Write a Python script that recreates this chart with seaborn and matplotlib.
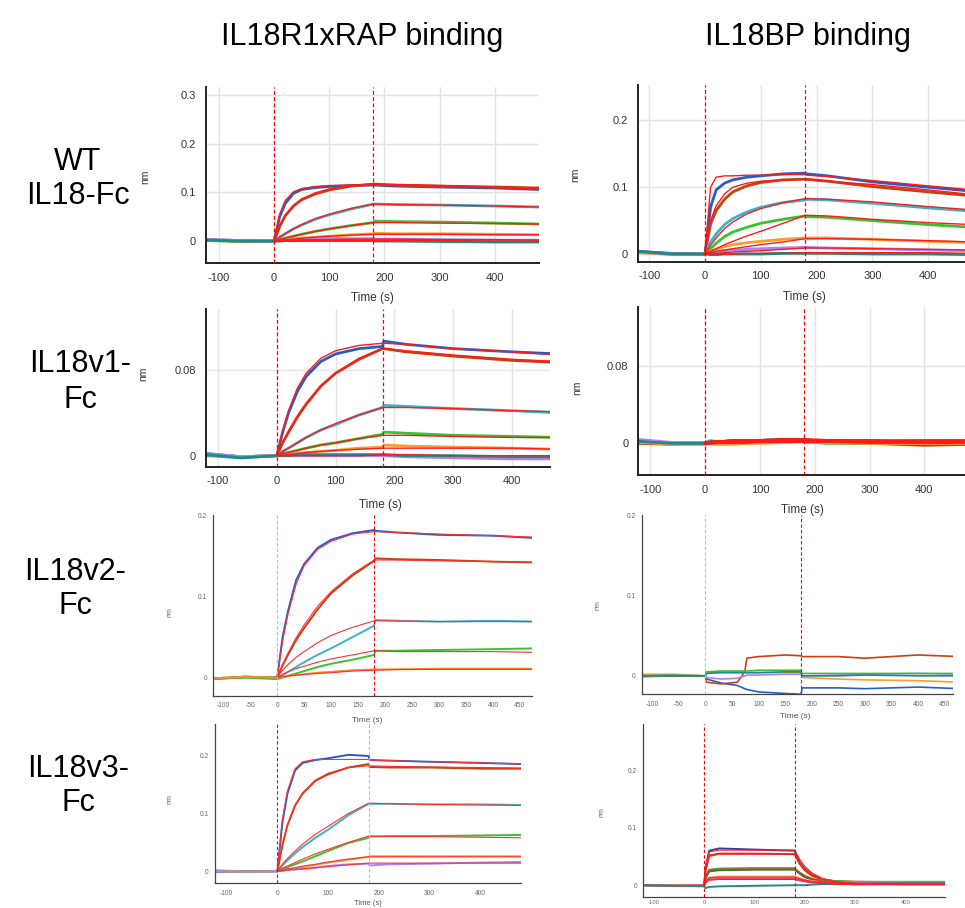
import numpy as np
import matplotlib
matplotlib.use("Agg")
import matplotlib.pyplot as plt
import seaborn as sns
from matplotlib.ticker import MultipleLocator, FixedLocator, FuncFormatter

sns.set_style("white")
plt.rcParams['font.family'] = ['Liberation Sans', 'DejaVu Sans']

# ---------------- data ----------------
COL_TITLES = ["IL18R1xRAP binding", "IL18BP binding"]
ROW_LABELS = ["WT\nIL18-Fc", "IL18v1-\nFc", "IL18v2-\nFc", "IL18v3-\nFc"]

T = [-120, -60, 0, 10, 20, 35, 50, 75, 100, 140, 180, 182, 220, 300, 400, 480]
T6 = [-120, -60, 0, 2, 30, 60, 74, 78, 100, 150, 180, 182, 250, 300, 400, 480]
T8 = [-120, -60, 0, 3, 10, 30, 100, 180, 190, 200, 215, 235, 260, 300, 400, 480]

# Panel 1: WT IL18-Fc / IL18R1xRAP
P1_DATA = [
    [0.003, 0.001, 0.0, 0.05, 0.077, 0.098, 0.106, 0.11, 0.112, 0.114, 0.115, 0.115, 0.113, 0.111, 0.109, 0.106],
    [0.002, 0.0, 0.0, 0.03, 0.052, 0.072, 0.085, 0.097, 0.105, 0.113, 0.117, 0.117, 0.115, 0.113, 0.111, 0.109],
    [0.002, 0.0, 0.0, 0.008, 0.015, 0.025, 0.033, 0.045, 0.054, 0.066, 0.076, 0.076, 0.075, 0.074, 0.072, 0.07],
    [0.001, -0.001, 0.0, 0.003, 0.006, 0.01, 0.014, 0.02, 0.025, 0.032, 0.038, 0.041, 0.04, 0.039, 0.037, 0.035],
    [0.002, 0.0, 0.0, 0.001, 0.002, 0.004, 0.006, 0.008, 0.01, 0.013, 0.015, 0.016, 0.015, 0.015, 0.014, 0.013],
    [0.003, 0.001, 0.0, 0.001, 0.002, 0.002, 0.003, 0.004, 0.005, 0.005, 0.005, 0.004, 0.004, 0.003, 0.002, 0.002],
    [0.002, 0.0, 0.0, 0.0, 0.001, 0.001, 0.001, 0.001, 0.001, 0.001, 0.001, 0.0, 0.0, -0.001, -0.002, -0.002],
]
P1_FIT = [
    [0, 0.055, 0.083, 0.101, 0.108, 0.112, 0.114, 0.115, 0.116, 0.116, 0.115, 0.113, 0.110, 0.107],
    [0, 0.03, 0.052, 0.073, 0.086, 0.099, 0.107, 0.114, 0.117, 0.117, 0.116, 0.114, 0.111, 0.109],
    [0, 0.008, 0.015, 0.025, 0.034, 0.046, 0.055, 0.067, 0.076, 0.076, 0.075, 0.074, 0.072, 0.070],
    [0, 0.003, 0.006, 0.01, 0.014, 0.02, 0.025, 0.032, 0.038, 0.038, 0.038, 0.037, 0.036, 0.035],
    [0, 0.001, 0.002, 0.004, 0.006, 0.008, 0.01, 0.012, 0.014, 0.014, 0.014, 0.014, 0.013, 0.013],
    [0, 0.001, 0.001, 0.002, 0.002, 0.003, 0.003, 0.004, 0.004, 0.004, 0.004, 0.003, 0.003, 0.002],
    [0, 0.0, 0.0, 0.0, 0.001, 0.001, 0.001, 0.001, 0.001, 0.001, 0.001, 0.001, 0.0, 0.0],
]

# Panel 2: WT IL18-Fc / IL18BP
P2_DATA = [
    [0.004, 0.001, 0.0, 0.07, 0.096, 0.106, 0.111, 0.115, 0.117, 0.12, 0.121, 0.12, 0.117, 0.108, 0.1, 0.094],
    [0.003, 0.0, 0.0, 0.045, 0.065, 0.082, 0.093, 0.102, 0.107, 0.111, 0.112, 0.112, 0.109, 0.101, 0.093, 0.087],
    [0.003, 0.0, 0.0, 0.018, 0.03, 0.044, 0.053, 0.063, 0.07, 0.077, 0.081, 0.082, 0.081, 0.076, 0.069, 0.064],
    [0.004, 0.0, 0.0, 0.008, 0.016, 0.026, 0.033, 0.04, 0.046, 0.052, 0.057, 0.056, 0.055, 0.05, 0.044, 0.04],
    [0.002, -0.001, 0.0, 0.004, 0.007, 0.011, 0.014, 0.017, 0.019, 0.022, 0.024, 0.024, 0.024, 0.022, 0.019, 0.017],
    [0.003, 0.0, 0.0, 0.002, 0.003, 0.005, 0.006, 0.007, 0.008, 0.009, 0.01, 0.01, 0.009, 0.008, 0.006, 0.005],
    [0.004, 0.0, 0.0, -0.001, -0.001, 0.0, 0.0, 0.0, 0.0, 0.001, 0.001, 0.001, 0.001, 0.0, 0.0, -0.001],
]
P2_FIT = [
    [0, 0.1, 0.115, 0.117, 0.117, 0.118, 0.118, 0.119, 0.119, 0.118, 0.116, 0.11, 0.102, 0.096],
    [0, 0.05, 0.072, 0.09, 0.1, 0.106, 0.109, 0.111, 0.112, 0.111, 0.109, 0.104, 0.096, 0.089],
    [0, 0.013, 0.024, 0.038, 0.048, 0.06, 0.068, 0.077, 0.083, 0.083, 0.082, 0.078, 0.071, 0.066],
    [0, 0.004, 0.008, 0.014, 0.019, 0.027, 0.034, 0.046, 0.058, 0.058, 0.057, 0.052, 0.047, 0.044],
    [0, 0.002, 0.004, 0.006, 0.008, 0.011, 0.014, 0.018, 0.023, 0.023, 0.023, 0.022, 0.02, 0.018],
    [0, 0.001, 0.001, 0.002, 0.003, 0.004, 0.005, 0.007, 0.009, 0.009, 0.009, 0.008, 0.007, 0.006],
    [0, 0.0, 0.0, 0.0, 0.0, 0.001, 0.001, 0.001, 0.002, 0.002, 0.002, 0.002, 0.002, 0.001],
]

# Panel 3: IL18v1-Fc / IL18R1xRAP
P3_DATA = [
    [0.002, -0.001, 0.0, 0.022, 0.04, 0.06, 0.074, 0.088, 0.095, 0.1, 0.102, 0.107, 0.104, 0.1, 0.097, 0.095],
    [0.001, -0.001, 0.0, 0.012, 0.022, 0.036, 0.048, 0.065, 0.077, 0.09, 0.1, 0.1, 0.097, 0.093, 0.089, 0.087],
    [0.0, -0.002, 0.0, 0.004, 0.007, 0.012, 0.017, 0.024, 0.029, 0.038, 0.045, 0.047, 0.046, 0.044, 0.042, 0.04],
    [0.001, -0.001, 0.0, 0.002, 0.003, 0.005, 0.007, 0.01, 0.012, 0.016, 0.02, 0.022, 0.021, 0.019, 0.018, 0.017],
    [0.001, -0.001, 0.0, 0.001, 0.001, 0.002, 0.003, 0.004, 0.005, 0.007, 0.008, 0.01, 0.009, 0.008, 0.007, 0.006],
    [0.002, -0.001, 0.0, 0.0, 0.0, 0.0, 0.0, 0.0, 0.0, 0.0, 0.0, 0.0, -0.001, -0.002, -0.003, -0.003],
    [0.001, -0.002, 0.0, 0.0, 0.0, 0.001, 0.001, 0.001, 0.001, 0.001, 0.001, 0.001, 0.0, 0.0, -0.001, -0.001],
]
P3_FIT = [
    [0, 0.023, 0.042, 0.063, 0.077, 0.091, 0.098, 0.103, 0.105, 0.105, 0.104, 0.1, 0.097, 0.094],
    [0, 0.012, 0.023, 0.037, 0.049, 0.065, 0.077, 0.091, 0.1, 0.1, 0.098, 0.094, 0.09, 0.088],
    [0, 0.004, 0.007, 0.012, 0.017, 0.024, 0.03, 0.038, 0.045, 0.045, 0.045, 0.044, 0.042, 0.041],
    [0, 0.002, 0.003, 0.005, 0.007, 0.01, 0.012, 0.016, 0.019, 0.019, 0.019, 0.018, 0.017, 0.017],
    [0, 0.001, 0.001, 0.002, 0.003, 0.004, 0.005, 0.006, 0.007, 0.007, 0.007, 0.007, 0.007, 0.006],
    [0, 0, 0, 0, 0, 0, 0, 0, 0.001, 0.001, 0.001, 0.0, 0.0, 0.0],
]

# Panel 4: IL18v1-Fc / IL18BP
P4_DATA = [
    [0.002, 0.0, 0.0, 0.002, 0.002, 0.002, 0.002, 0.002, 0.002, 0.003, 0.003, 0.002, 0.002, 0.001, 0.001, 0.001],
    [0.0, -0.001, 0.0, 0.001, 0.001, 0.001, 0.001, 0.002, 0.002, 0.002, 0.002, 0.001, 0.001, 0.0, -0.002, -0.001],
    [0.002, 0.0, 0.0, 0.002, 0.002, 0.002, 0.003, 0.003, 0.003, 0.004, 0.004, 0.003, 0.003, 0.002, 0.003, 0.003],
    [0.002, 0.0, -0.001, 0.002, 0.001, 0.001, 0.002, 0.002, 0.002, 0.002, 0.003, 0.002, 0.0, 0.0, 0.001, 0.001],
    [0.001, -0.001, -0.001, 0.0, -0.001, -0.001, -0.001, 0.0, 0.0, 0.001, 0.002, 0.001, 0.001, 0.0, 0.0, 0.0],
    [0.004, 0.001, 0.001, 0.003, 0.002, 0.002, 0.002, 0.003, 0.002, 0.003, 0.004, 0.003, 0.002, 0.001, 0.001, 0.001],
    [0.002, 0.0, 0.0, 0.002, 0.002, 0.002, 0.003, 0.003, 0.003, 0.004, 0.004, 0.003, 0.003, 0.002, 0.003, 0.003],
]
P4_FIT = [
    [0, 0.001, 0.001, 0.002, 0.002, 0.002, 0.002, 0.003, 0.003, 0.003, 0.003, 0.002, 0.002, 0.002],
    [0, 0.0, 0.001, 0.001, 0.001, 0.001, 0.002, 0.002, 0.002, 0.002, 0.002, 0.001, 0.001, 0.001],
    [0, 0.001, 0.002, 0.002, 0.003, 0.003, 0.003, 0.004, 0.004, 0.004, 0.003, 0.003, 0.002, 0.002],
]

# Panel 5: IL18v2-Fc / IL18R1xRAP
P5_DATA = [
    [-0.002, 0.001, 0.0, 0.05, 0.082, 0.12, 0.14, 0.16, 0.17, 0.178, 0.182, 0.181, 0.179, 0.176, 0.175, 0.172],
    [-0.001, 0.001, 0.0, 0.015, 0.028, 0.046, 0.061, 0.084, 0.104, 0.126, 0.144, 0.147, 0.146, 0.145, 0.143, 0.142],
    [-0.002, 0.0, 0.0, 0.003, 0.007, 0.013, 0.019, 0.028, 0.036, 0.05, 0.064, 0.071, 0.07, 0.069, 0.07, 0.069],
    [-0.001, 0.0, -0.002, 0.0, 0.002, 0.005, 0.008, 0.013, 0.017, 0.022, 0.028, 0.033, 0.033, 0.034, 0.035, 0.036],
    [-0.001, 0.001, 0.0, 0.001, 0.002, 0.003, 0.004, 0.006, 0.007, 0.009, 0.01, 0.01, 0.01, 0.011, 0.011, 0.011],
]
P5_FIT = [
    [0, 0.045, 0.078, 0.115, 0.138, 0.158, 0.168, 0.177, 0.18, 0.18, 0.179, 0.177, 0.175, 0.173],
    [0, 0.016, 0.03, 0.049, 0.065, 0.088, 0.106, 0.128, 0.145, 0.145, 0.145, 0.144, 0.143, 0.142],
    [0, 0.009, 0.016, 0.025, 0.032, 0.043, 0.052, 0.062, 0.07, 0.07, 0.07, 0.069, 0.069, 0.069],
    [0, 0.004, 0.007, 0.011, 0.014, 0.019, 0.023, 0.028, 0.033, 0.033, 0.032, 0.032, 0.032, 0.031],
    [0, 0.001, 0.002, 0.003, 0.004, 0.005, 0.006, 0.008, 0.009, 0.009, 0.01, 0.01, 0.01, 0.01],
]

# Panel 6: IL18v2-Fc / IL18BP (no fits)
P6_DATA = [
    [-0.001, 0.0, 0.0, -0.004, -0.009, -0.012, -0.016, -0.017, -0.02, -0.022, -0.023, -0.015, -0.015, -0.016, -0.014, -0.016],
    [0.0, 0.0, 0.0, -0.008, -0.01, -0.008, 0.005, 0.022, 0.024, 0.026, 0.025, 0.024, 0.024, 0.022, 0.026, 0.024],
    [0.002, 0.002, 0.0, 0.004, 0.005, 0.004, 0.004, 0.004, 0.004, 0.004, 0.004, -0.002, -0.004, -0.005, -0.006, -0.008],
    [0.0, 0.001, 0.0, -0.002, -0.004, -0.003, 0.0, 0.001, 0.001, 0.002, 0.002, 0.0, 0.001, 0.002, 0.003, 0.002],
    [0.0, 0.001, 0.0, 0.005, 0.006, 0.006, 0.006, 0.006, 0.007, 0.007, 0.007, 0.003, 0.003, 0.003, 0.003, 0.003],
    [0.0, 0.0, 0.0, 0.003, 0.004, 0.004, 0.004, 0.004, 0.004, 0.005, 0.005, 0.0, 0.0, 0.001, 0.0, 0.0],
]

# Panel 7: IL18v3-Fc / IL18R1xRAP
P7_DATA = [
    [-0.001, 0.0, 0.0, 0.085, 0.135, 0.175, 0.188, 0.193, 0.196, 0.202, 0.2, 0.193, 0.192, 0.19, 0.188, 0.186],
    [0.0, 0.0, 0.0, 0.045, 0.08, 0.114, 0.135, 0.157, 0.168, 0.18, 0.186, 0.181, 0.18, 0.18, 0.178, 0.178],
    [0.0, -0.001, 0.0, 0.01, 0.019, 0.031, 0.042, 0.058, 0.072, 0.097, 0.117, 0.117, 0.117, 0.116, 0.116, 0.115],
    [0.0, 0.0, 0.0, 0.004, 0.007, 0.012, 0.017, 0.026, 0.035, 0.049, 0.058, 0.06, 0.061, 0.061, 0.062, 0.063],
    [0.002, -0.001, 0.0, 0.001, 0.003, 0.005, 0.007, 0.011, 0.015, 0.02, 0.025, 0.026, 0.026, 0.026, 0.026, 0.026],
    [0.0, -0.001, 0.0, 0.001, 0.002, 0.003, 0.004, 0.006, 0.009, 0.012, 0.013, 0.01, 0.012, 0.013, 0.015, 0.016],
]
P7_FIT = [
    [0, 0.09, 0.14, 0.178, 0.19, 0.194, 0.194, 0.194, 0.194, 0.193, 0.192, 0.19, 0.188, 0.186],
    [0, 0.045, 0.08, 0.115, 0.136, 0.158, 0.17, 0.18, 0.183, 0.183, 0.182, 0.181, 0.18, 0.179],
    [0, 0.012, 0.022, 0.035, 0.047, 0.064, 0.078, 0.1, 0.118, 0.118, 0.117, 0.116, 0.115, 0.114],
    [0, 0.005, 0.009, 0.015, 0.021, 0.03, 0.038, 0.05, 0.061, 0.061, 0.06, 0.06, 0.059, 0.058],
    [0, 0.002, 0.004, 0.006, 0.009, 0.012, 0.016, 0.021, 0.025, 0.025, 0.025, 0.025, 0.025, 0.025],
    [0, 0.001, 0.002, 0.003, 0.004, 0.006, 0.008, 0.011, 0.014, 0.014, 0.014, 0.014, 0.014, 0.014],
]

# Panel 8: IL18v3-Fc / IL18BP
P8_DATA = [
    [0.0, -0.001, 0.0, 0.03, 0.06, 0.064, 0.062, 0.06, 0.04, 0.028, 0.017, 0.01, 0.007, 0.005, 0.005, 0.004],
    [0.0, 0.0, 0.0, 0.025, 0.052, 0.055, 0.055, 0.054, 0.037, 0.026, 0.016, 0.01, 0.007, 0.006, 0.005, 0.004],
    [0.0, -0.001, 0.0, 0.015, 0.027, 0.029, 0.03, 0.03, 0.022, 0.016, 0.011, 0.008, 0.007, 0.006, 0.006, 0.006],
    [0.0, 0.0, 0.0, 0.012, 0.024, 0.026, 0.027, 0.027, 0.02, 0.014, 0.01, 0.007, 0.006, 0.005, 0.005, 0.005],
    [0.0, 0.0, 0.0, 0.007, 0.013, 0.015, 0.015, 0.015, 0.012, 0.009, 0.007, 0.006, 0.005, 0.005, 0.005, 0.005],
    [0.0, -0.001, 0.0, 0.005, 0.01, 0.011, 0.011, 0.011, 0.009, 0.008, 0.006, 0.005, 0.004, 0.004, 0.004, 0.004],
    [0.0, -0.001, -0.002, -0.005, -0.003, -0.002, -0.001, 0.0, 0.0, 0.0, 0.001, 0.002, 0.002, 0.002, 0.003, 0.003],
]
P8_FIT = [
    [0, 0.035, 0.058, 0.061, 0.061, 0.061, 0.045, 0.033, 0.021, 0.012, 0.006, 0.003, 0.002, 0.002],
    [0, 0.03, 0.05, 0.054, 0.054, 0.054, 0.04, 0.03, 0.019, 0.011, 0.006, 0.003, 0.002, 0.002],
    [0, 0.015, 0.026, 0.028, 0.028, 0.028, 0.022, 0.017, 0.011, 0.007, 0.004, 0.002, 0.001, 0.001],
    [0, 0.008, 0.013, 0.014, 0.014, 0.014, 0.011, 0.009, 0.006, 0.004, 0.002, 0.001, 0.001, 0.001],
    [0, 0.005, 0.009, 0.01, 0.01, 0.01, 0.008, 0.006, 0.004, 0.003, 0.002, 0.001, 0.001, 0.001],
]

# ---------------- styling ----------------
C7 = ["#2a5cc8", "#c8400f", "#3fb2c8", "#3cc032", "#ff9a2e", "#b27ff5", "#1f8a8c"]
C5 = ["#2a5cc8", "#c8400f", "#3fb2c8", "#3cc032", "#ff8a20"]
C6 = ["#2a5cc8", "#c8400f", "#ff9a2e", "#b27ff5", "#3cc032", "#1f8a8c"]
C8 = ["#3a3aa0", "#c8400f", "#3cc032", "#2f7a4a", "#ff9a2e", "#e0409a", "#1f8a8c"]
FIT_RED = "#ff1a1a"

W, H = 965, 908
fig = plt.figure(figsize=(W / 100, H / 100), dpi=100)


def rect(x0, x1, y0, y1):
    return [x0 / W, 1 - y1 / H, (x1 - x0) / W, (y1 - y0) / H]


def fmt(v, pos):
    if abs(v) < 1e-12:
        return "0"
    return f"{v:g}"


def draw(ax, t, data, colors, fits, lw_d, lw_f, fit_color=FIT_RED):
    for y, c in zip(data, colors):
        sns.lineplot(x=t, y=y, ax=ax, color=c, linewidth=lw_d, legend=False,
                     estimator=None, sort=False)
    for f in fits:
        sns.lineplot(x=t[2:], y=f, ax=ax, color=fit_color, linewidth=lw_f,
                     legend=False, estimator=None, sort=False)


def style(ax, big, xlim, ylim, xmaj, xmin, ymaj, ymin, grid, tlen=None, tpad=None, tsize=None):
    ax.set_xlim(*xlim)
    ax.set_ylim(*ylim)
    for s in ["top", "right"]:
        ax.spines[s].set_visible(False)
    sc = "#222222" if big else "#444444"
    for s in ["left", "bottom"]:
        ax.spines[s].set_color(sc)
        ax.spines[s].set_linewidth(1.4 if big else 0.9)
    ax.xaxis.set_major_locator(FixedLocator(xmaj))
    ax.xaxis.set_minor_locator(MultipleLocator(xmin))
    ax.yaxis.set_major_locator(FixedLocator(ymaj))
    ax.yaxis.set_minor_locator(MultipleLocator(ymin))
    ax.yaxis.set_major_formatter(FuncFormatter(fmt))
    ax.xaxis.set_major_formatter(FuncFormatter(fmt))
    if big:
        ax.tick_params(which="both", direction="out", length=5, width=1.1,
                       color="#222222", labelsize=8, labelcolor="#333333", pad=2)
    else:
        ax.tick_params(which="both", direction="out", length=3, width=0.8,
                       color="#444444", labelsize=4.8, labelcolor="#666666", pad=1.5)
        if tlen is not None:
            ax.tick_params(axis="x", which="both", length=tlen, pad=tpad, labelsize=tsize)
    ax.set_xlabel("")
    ax.set_ylabel("")
    if grid:
        ax.grid(True, which="major", color="#e4e4e4", linewidth=1.0)
        ax.set_axisbelow(True)
    else:
        ax.grid(False)


def vlines(ax, c0, c180, lw=0.9):
    for x, c in ((0, c0), (180, c180)):
        ax.axvline(x, color=c, linewidth=lw, linestyle=(0, (3, 2)), zorder=5)


RED = "#ff0000"
PINK = "#ff9f9f"

# Panel 1
ax = fig.add_axes(rect(205.7, 539, 86.7, 263))
style(ax, True, (-124, 480), (-0.045, 0.317), [-100, 0, 100, 200, 300, 400], 20,
      [0, 0.1, 0.2, 0.3], 0.05, True)
vlines(ax, RED, RED)
draw(ax, T, P1_DATA, C7, P1_FIT, 2.0, 1.0)

# Panel 2
ax = fig.add_axes(rect(637.7, 965, 85, 261.7))
style(ax, True, (-120.6, 466), (-0.0115, 0.253), [-100, 0, 100, 200, 300, 400], 20,
      [0, 0.1, 0.2], 0.05, True)
vlines(ax, RED, RED)
draw(ax, T, P2_DATA, C7, P2_FIT, 2.0, 1.0)

# Panel 3
ax = fig.add_axes(rect(205.7, 550, 309, 466.7))
style(ax, True, (-121, 465), (-0.0103, 0.137), [-100, 0, 100, 200, 300, 400], 20,
      [0, 0.08], 0.02, True)
vlines(ax, RED, RED)
draw(ax, T, P3_DATA, C7, P3_FIT, 2.0, 1.0)

# Panel 4
ax = fig.add_axes(rect(638.3, 965, 306.7, 475))
style(ax, True, (-121.6, 474), (-0.0326, 0.141), [-100, 0, 100, 200, 300, 400], 20,
      [0, 0.08], 0.02, True)
vlines(ax, RED, RED)
draw(ax, T, P4_DATA, C7, P4_FIT, 2.0, 2.2)

# Panel 5
ax = fig.add_axes(rect(213.3, 531.7, 515, 695.7))
style(ax, False, (-118.5, 472), (-0.0224, 0.2005),
      [-100, -50, 0, 50, 100, 150, 200, 250, 300, 350, 400, 450], 10,
      [0, 0.1, 0.2], 0.02, False)
vlines(ax, PINK, RED, 0.8)
draw(ax, T, P5_DATA, C5, P5_FIT, 1.4, 0.8, "#ff3030")

# Panel 6
ax = fig.add_axes(rect(641.7, 953, 515, 694.3))
style(ax, False, (-120, 466), (-0.023, 0.2005),
      [-100, -50, 0, 50, 100, 150, 200, 250, 300, 350, 400, 450], 10,
      [0, 0.1, 0.2], 0.02, False)
vlines(ax, PINK, RED, 0.8)
draw(ax, T6, P6_DATA, C6, [], 1.2, 0.8)

# Panel 7
ax = fig.add_axes(rect(215, 520.7, 724.3, 883.3))
style(ax, False, (-123, 480), (-0.021, 0.255), [-100, 0, 100, 200, 300, 400], 20,
      [0, 0.1, 0.2], 0.02, False)
vlines(ax, RED, PINK, 0.8)
draw(ax, T, P7_DATA, C7[:6], P7_FIT, 1.4, 0.8, "#ff3030")

# Panel 8
ax = fig.add_axes(rect(643.3, 945, 724.3, 896.7))
style(ax, False, (-121, 479), (-0.02, 0.28), [-100, 0, 100, 200, 300, 400], 20,
      [0, 0.1, 0.2], 0.02, False, tlen=2, tpad=0.4, tsize=4.2)
vlines(ax, RED, RED, 0.8)
draw(ax, T8, P8_DATA, C8, P8_FIT, 1.4, 0.8, "#ff2020")


def ftext(x, y, s, **kw):
    fig.text(x / W, 1 - y / H, s, **kw)


# titles
ftext(362, 37, COL_TITLES[0], ha="center", va="center", fontsize=22, color="black")
ftext(808, 37, COL_TITLES[1], ha="center", va="center", fontsize=22, color="black")

# row labels
for (x, y, ls), lab in zip([(78, 179, 1.15), (80, 382, 1.3), (75, 589, 1.15), (78, 786, 1.15)],
                           ROW_LABELS):
    ftext(x, y, lab, ha="center", va="center", fontsize=22, linespacing=ls, color="black")

# nm labels
for x, y, fs, c in [(145, 177, 7.5, "#333333"), (575, 175, 7.5, "#333333"),
                    (143, 374, 7.5, "#333333"), (577, 388, 7.5, "#333333"),
                    (170, 612, 5, "#666666"), (598, 605, 5, "#666666"),
                    (170, 799, 5, "#666666"), (602, 812, 5, "#666666")]:
    ftext(x, y, "nm", ha="center", va="center", rotation=90, fontsize=fs, color=c)

# x labels
for x, y, fs, c in [(372, 298, 8.5, "#333333"), (804, 297, 8.5, "#333333"),
                    (380, 505, 8.5, "#333333"), (802, 510, 8.5, "#333333"),
                    (367, 720, 6, "#555555"), (795, 717, 6, "#555555"),
                    (368, 903.5, 5.5, "#555555")]:
    ftext(x, y, "Time (s)", ha="center", va="center", fontsize=fs, color=c)

fig.savefig("out.png", dpi=100)
